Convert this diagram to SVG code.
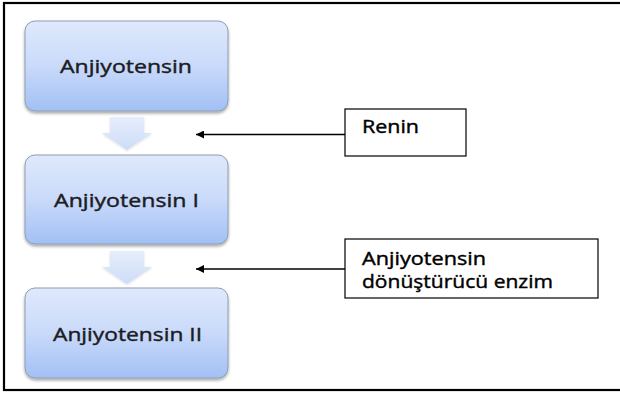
<svg xmlns="http://www.w3.org/2000/svg" width="620" height="396" viewBox="0 0 620 396">
<defs>
<linearGradient id="g" x1="0" y1="0" x2="0" y2="1">
<stop offset="0" stop-color="#dfe9fc"/>
<stop offset="0.5" stop-color="#c9dafa"/>
<stop offset="1" stop-color="#a2c0f5"/>
</linearGradient>
<linearGradient id="ga" x1="0" y1="0" x2="0" y2="1">
<stop offset="0" stop-color="#e6eefc"/>
<stop offset="1" stop-color="#cddcf7"/>
</linearGradient>
<filter id="sh" x="-10%" y="-10%" width="120%" height="130%">
<feGaussianBlur in="SourceAlpha" stdDeviation="1.5"/>
<feOffset dx="0" dy="2" result="b"/>
<feComponentTransfer><feFuncA type="linear" slope="0.35"/></feComponentTransfer>
<feMerge><feMergeNode/><feMergeNode in="SourceGraphic"/></feMerge>
</filter>
<filter id="sa" x="-20%" y="-20%" width="140%" height="140%">
<feGaussianBlur in="SourceAlpha" stdDeviation="1"/>
<feOffset dx="0" dy="1"/>
<feComponentTransfer><feFuncA type="linear" slope="0.15"/></feComponentTransfer>
<feMerge><feMergeNode/><feMergeNode in="SourceGraphic"/></feMerge>
</filter>
<marker id="ah" viewBox="0 0 10 10" refX="10" refY="5" markerWidth="10" markerHeight="8" markerUnits="userSpaceOnUse" orient="auto">
<path d="M0,0 L10,5 L0,10 z" fill="#000"/>
</marker>
</defs>
<style>
.node{fill:url(#g);stroke:#8f9db0;stroke-width:1;filter:url(#sh)}
.nt{font-family:"Open Sans","Liberation Sans",sans-serif;font-size:18px;fill:#1c1c24;stroke:#1c1c24;stroke-width:0.4}
.box{fill:#fff;stroke:#000;stroke-width:1.2}
.bt{font-family:"Open Sans","Liberation Sans",sans-serif;font-size:18px;fill:#000;stroke:#000;stroke-width:0.4}
.dn{fill:url(#ga);filter:url(#sa)}
.ln{stroke:#000;stroke-width:1.3;fill:none;marker-end:url(#ah)}
</style>
<rect x="0" y="0" width="620" height="396" fill="#fff"/>
<rect x="4" y="3" width="630" height="387" fill="none" stroke="#000" stroke-width="2.2"/>
<g id="n1"><rect class="node" x="25" y="21" width="203" height="90" rx="10"/><text class="nt" x="60" y="73" textLength="132" lengthAdjust="spacingAndGlyphs">Anjiyotensin</text></g>
<g id="n2"><rect class="node" x="25" y="155" width="203" height="89" rx="10"/><text class="nt" x="54" y="207" textLength="145" lengthAdjust="spacingAndGlyphs">Anjiyotensin I</text></g>
<g id="n3"><rect class="node" x="25" y="288" width="203" height="90" rx="10"/><text class="nt" x="53" y="341" textLength="149" lengthAdjust="spacingAndGlyphs">Anjiyotensin II</text></g>
<g id="d1"><path class="dn" d="M110,117 H144 V133 H152 L127,150 L102,133 H110 Z"/></g>
<g id="d2"><path class="dn" d="M110,251 H144 V267 H152 L127,284 L102,267 H110 Z"/></g>
<g id="renin"><rect class="box" x="345" y="109" width="121" height="47"/><text class="bt" x="362" y="133" textLength="57" lengthAdjust="spacingAndGlyphs">Renin</text></g>
<g id="ace"><rect class="box" x="345" y="239" width="253" height="59"/><text class="bt" x="362" y="265" textLength="124" lengthAdjust="spacingAndGlyphs">Anjiyotensin</text><text class="bt" x="362" y="288" textLength="191" lengthAdjust="spacingAndGlyphs">dönüştürücü enzim</text></g>
<g id="connectors">
<line class="ln" x1="345" y1="134.5" x2="196" y2="134.5"/>
<line class="ln" x1="345" y1="269" x2="196" y2="269"/>
</g>
</svg>
